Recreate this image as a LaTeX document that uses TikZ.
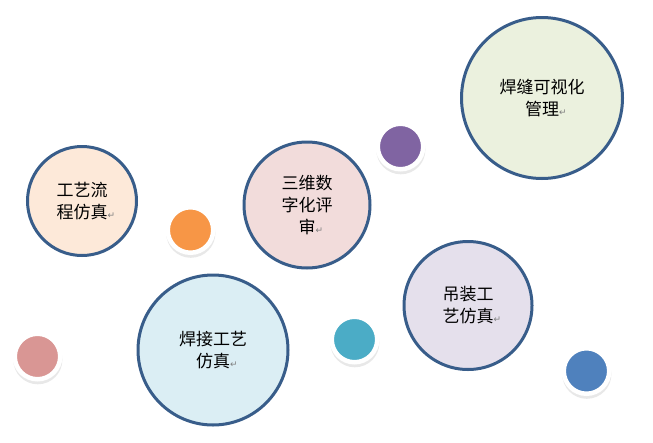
\documentclass[tikz,border=0pt]{standalone}
\usepackage{fontspec}
\usepackage{xcolor}
\usetikzlibrary{shadows}
\newfontfamily\cjk{Noto Sans CJK SC}
\newfontfamily\symfont{DejaVu Sans}
\definecolor{rim}{HTML}{385D8A}
\definecolor{peach}{HTML}{FDE9D9}
\definecolor{rose}{HTML}{F2DCDB}
\definecolor{sage}{HTML}{EBF1DE}
\definecolor{sky}{HTML}{DBEEF4}
\definecolor{lilac}{HTML}{E5E0EC}
\definecolor{dotorange}{HTML}{F79646}
\definecolor{dotpurple}{HTML}{8064A2}
\definecolor{dotteal}{HTML}{4BACC6}
\definecolor{dotblue}{HTML}{4F81BD}
\definecolor{dotpink}{HTML}{D99694}
\newcommand{\retmark}{\rlap{\symfont\color{gray}\fontsize{9}{9}\selectfont ↵}}

\begin{document}
\begin{tikzpicture}[x=1pt,y=-1pt,
  bubble/.style={circle, draw=rim, line width=3pt, inner sep=0pt, align=center,
    font=\cjk\fontsize{17}{22}\selectfont},
  dot/.style={circle, draw=white, line width=4.5pt, minimum size=45.5pt, inner sep=0pt,
    drop shadow={shadow xshift=0.3pt, shadow yshift=-3pt, shadow scale=1.08, opacity=0.18}},
]
  \useasboundingbox (0,0) rectangle (653,442);

  % bubbles
  \node[bubble, fill=peach, minimum size=109pt] (liucheng) at (82,201) {工艺流\\程仿真\retmark};
  \node[bubble, fill=rose, minimum size=126pt] (pingshen) at (307,205) {三维数\\字化评\\审\retmark};
  \node[bubble, fill=sage, minimum size=161pt] (hanfeng) at (542,98) {焊缝可视化\\管理\retmark};
  \node[bubble, fill=sky, minimum size=150pt] (hanjie) at (213,350) {焊接工艺\\仿真\retmark};
  \node[bubble, fill=lilac, minimum size=128pt] (diaozhuang) at (468,305.5) {吊装工\\艺仿真\retmark};

  % dots
  \node[dot, fill=dotorange] (dotorange) at (190.5,230) {};
  \node[dot, fill=dotpurple] (dotpurple) at (400.5,146.5) {};
  \node[dot, fill=dotteal] (dotteal) at (354.5,339.5) {};
  \node[dot, fill=dotblue] (dotblue) at (586.5,371) {};
  \node[dot, fill=dotpink] (dotpink) at (37.5,356.5) {};

\end{tikzpicture}
\end{document}
